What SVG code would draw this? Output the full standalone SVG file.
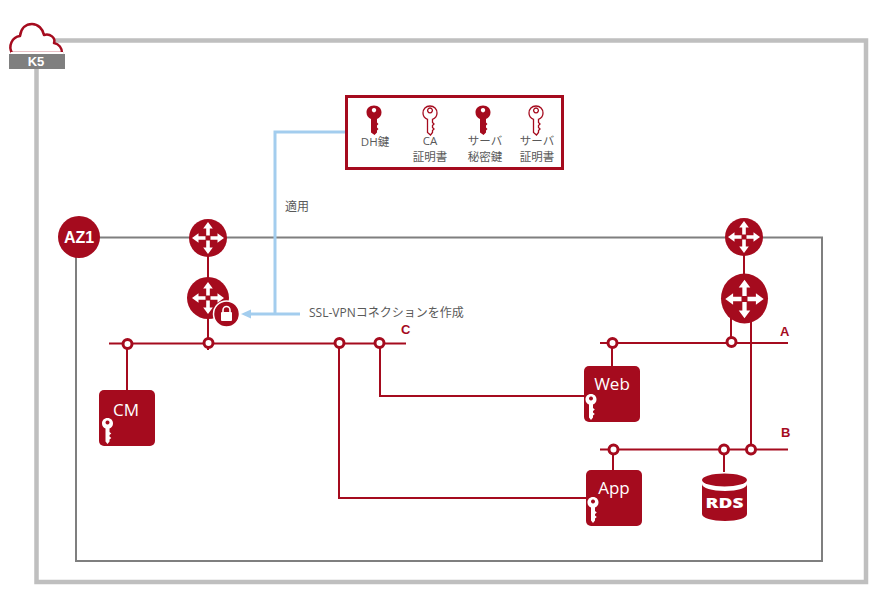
<svg xmlns="http://www.w3.org/2000/svg" xmlns:xlink="http://www.w3.org/1999/xlink" width="895" height="599" viewBox="0 0 895 599">
<style>
text{font-family:"Open Sans","Noto Sans CJK JP",sans-serif;}
.lbl{font-size:11.500px;fill:#595959;text-anchor:middle;}
.net{font-size:13px;font-weight:700;fill:#a50b1e;font-family:"Liberation Sans",sans-serif;}
.srv{font-size:17px;fill:#fff;text-anchor:middle;}
.wire{fill:none;stroke:#a50b1e;stroke-width:2;}
.blue{fill:none;stroke:#a3cdee;stroke-width:3;}
.ring{fill:#fff;stroke:#a50b1e;stroke-width:3;}
.box{fill:#a50b1e;}
</style>
<defs>
<g id="arrows">
<path d="M-1.800 -2.500V-9.500H-4.800L0 -16L4.800 -9.500H1.800V-2.500Z M-1.800 2.500V9.500H-4.800L0 16L4.800 9.500H1.800V2.500Z M-2.500 -1.800H-9.500V-4.800L-16 0L-9.500 4.800V1.800H-2.500Z M2.500 -1.800H9.500V-4.800L16 0L9.500 4.800V1.800H2.500Z" fill="#fff"/>
</g>
<path id="key" fill-rule="evenodd" d="M0 -14C4.600 -14 7.500 -11 7.500 -7C7.500 -3.800 5.600 -1.400 3 -0.400V3L4.500 4.500L3 6V8L4.500 9.500L3 11V13L0.500 15.500L-3 13V-0.400C-5.600 -1.400 -7.500 -3.800 -7.500 -7C-7.500 -11 -4.600 -14 0 -14ZM0 -11.500A2.200 2.200 0 1 0 0.010 -11.500Z"/>
<path id="keyline" fill="#fff" stroke="#a50b1e" stroke-width="1.300" d="M0 -13.500C4.200 -13.500 7 -10.500 7 -6.500C7 -3.500 5.200 -1.200 2.500 -0.200V3L4 4.500L2.500 6V8L4 9.500L2.500 11V13L0.500 15.500L-2.500 13V-0.200C-5.200 -1.200 -7 -3.500 -7 -6.500C-7 -10.500 -4.200 -13.500 0 -13.500ZM0 -11.500A2.400 2.400 0 1 0 0.010 -11.500Z"/>
<path id="wkey" fill="#fff" fill-rule="evenodd" d="M0 -13C3.400 -13 5.500 -10.600 5.500 -7.500C5.500 -5.200 4.200 -3.300 2 -2.500V1L3.800 2.500L2 4V5.500L3.800 7L2 8.500V10.500L0 13L-2 10.500V-2.500C-4.200 -3.300 -5.500 -5.200 -5.500 -7.500C-5.500 -10.600 -3.400 -13 0 -13ZM0 -10.500A2 2 0 1 0 0.010 -10.500Z"/>
</defs>

<rect id="k5-frame" x="36.500" y="40.500" width="829.500" height="541.500" fill="none" stroke="#bfbfbf" stroke-width="4.500"/>
<g id="k5">
<path d="M12 53C8 46 12 37 20 36C21 28 26 24 32 24C38 24 43 29 44 35C50 33 56 38 54 43C59 44 62 48 62 53Z" fill="#fff" stroke="#a50b1e" stroke-width="2.500" stroke-linejoin="round"/>
<rect x="11" y="52" width="52" height="3" fill="#fff"/>
<rect x="9" y="54" width="56" height="15" fill="#7f7f7f"/>
<text x="36" y="66" font-size="13" font-weight="700" fill="#fff" text-anchor="middle" style="font-family:'Liberation Sans',sans-serif">K5</text>
</g>

<rect id="az-frame" x="76" y="237.500" width="746" height="323.500" fill="none" stroke="#7f7f7f" stroke-width="2"/>

<g id="connectors">
<path class="blue" d="M345 132H275V314"/>
<path class="blue" d="M300 314H248"/>
<path d="M251 309.500L241 314L251 318.500Z" fill="#a3cdee"/>
<path class="wire" d="M109 343.500H406M600 343H788M600 449.500H788"/>
<path class="wire" d="M208 250V350M744 250V280M127 344V390M612 343V366M731 318V343M751 318V449M613 449V470M724 449V472"/>
<path class="wire" d="M380 343V396H584M339 343V498H586"/>
</g>

<g id="az1"><circle cx="79" cy="237" r="21" class="box"/><text x="79" y="242.500" font-size="16" font-weight="700" fill="#fff" text-anchor="middle" style="font-family:'Liberation Sans',sans-serif">AZ1</text></g>

<g id="router-1"><circle cx="208" cy="238" r="19" class="box"/><use xlink:href="#arrows" href="#arrows" transform="translate(208 238)"/></g>
<g id="router-2"><circle cx="208" cy="298" r="21" class="box"/><use xlink:href="#arrows" href="#arrows" transform="translate(208 298)"/></g>
<g id="lock">
<circle cx="226.500" cy="314" r="13" class="box" stroke="#fff" stroke-width="1.500"/>
<rect x="221" y="312" width="11" height="9" rx="1" fill="#fff"/>
<path d="M223 312.500V310A3.500 3.500 0 0 1 230 310V312.500" fill="none" stroke="#fff" stroke-width="1.600"/>
</g>
<g id="router-3"><circle cx="744" cy="237" r="19" class="box"/><use xlink:href="#arrows" href="#arrows" transform="translate(744 237)"/></g>
<g id="router-4"><ellipse cx="744.500" cy="298.500" rx="23.500" ry="25" class="box"/><use xlink:href="#arrows" href="#arrows" transform="translate(744.500 299) scale(1.200)"/></g>

<g id="keys">
<rect x="346.500" y="96.500" width="216" height="72" fill="#fff" stroke="#a50b1e" stroke-width="3"/>
<use xlink:href="#key" href="#key" fill="#a50b1e" transform="translate(374 119.500)"/>
<use xlink:href="#keyline" href="#keyline" transform="translate(430 119.500)"/>
<use xlink:href="#key" href="#key" fill="#a50b1e" transform="translate(483 119.500)"/>
<use xlink:href="#keyline" href="#keyline" transform="translate(536 119.500)"/>
<text class="lbl" x="375" y="146">DH鍵</text>
<text class="lbl" x="430" y="145">CA<tspan x="430" dy="16">証明書</tspan></text>
<text class="lbl" x="485" y="145">サーバ<tspan x="485" dy="16">秘密鍵</tspan></text>
<text class="lbl" x="537" y="145">サーバ<tspan x="537" dy="16">証明書</tspan></text>
</g>

<text id="apply" x="285" y="211" font-size="12" fill="#595959">適用</text>
<text id="vpn" x="309" y="317" font-size="12" fill="#595959">SSL-VPNコネクションを作成</text>
<text class="net" x="401" y="334">C</text>
<text class="net" x="780" y="336">A</text>
<text class="net" x="781" y="437">B</text>

<g id="rings">
<circle class="ring" cx="127.500" cy="344" r="4.500"/>
<circle class="ring" cx="208.500" cy="343" r="4.500"/>
<circle class="ring" cx="339.500" cy="343" r="4.500"/>
<circle class="ring" cx="379.500" cy="343" r="4.500"/>
<circle class="ring" cx="612.500" cy="343" r="4.500"/>
<circle class="ring" cx="731.500" cy="342" r="4.500"/>
<circle class="ring" cx="613.500" cy="449.500" r="4.500"/>
<circle class="ring" cx="724" cy="449.500" r="4.500"/>
<circle class="ring" cx="751" cy="449.500" r="4.500"/>
</g>

<g id="cm"><rect x="99" y="390" width="56" height="56" rx="5" class="box"/><text class="srv" x="126" y="416">CM</text><use xlink:href="#wkey" href="#wkey" transform="translate(107.500 431)"/></g>
<g id="web"><rect x="584" y="366" width="56" height="56" rx="5" class="box"/><text class="srv" x="612" y="390">Web</text><use xlink:href="#wkey" href="#wkey" transform="translate(591 407)"/></g>
<g id="app"><rect x="586" y="470" width="56" height="56" rx="5" class="box"/><text class="srv" x="614" y="494">App</text><use xlink:href="#wkey" href="#wkey" transform="translate(593 510)"/></g>
<g id="rds">
<path d="M702 484V514C702 518 712 521 725 521C738 521 747 518 747 514V484C747 488 738 491 725 491C712 491 702 488 702 484Z" class="box"/>
<ellipse cx="724.500" cy="480" rx="22.500" ry="6.500" class="box"/>
<text x="724.500" y="507.500" font-size="14" font-weight="800" fill="#fff" text-anchor="middle" textLength="38" lengthAdjust="spacingAndGlyphs">RDS</text>
</g>
</svg>
